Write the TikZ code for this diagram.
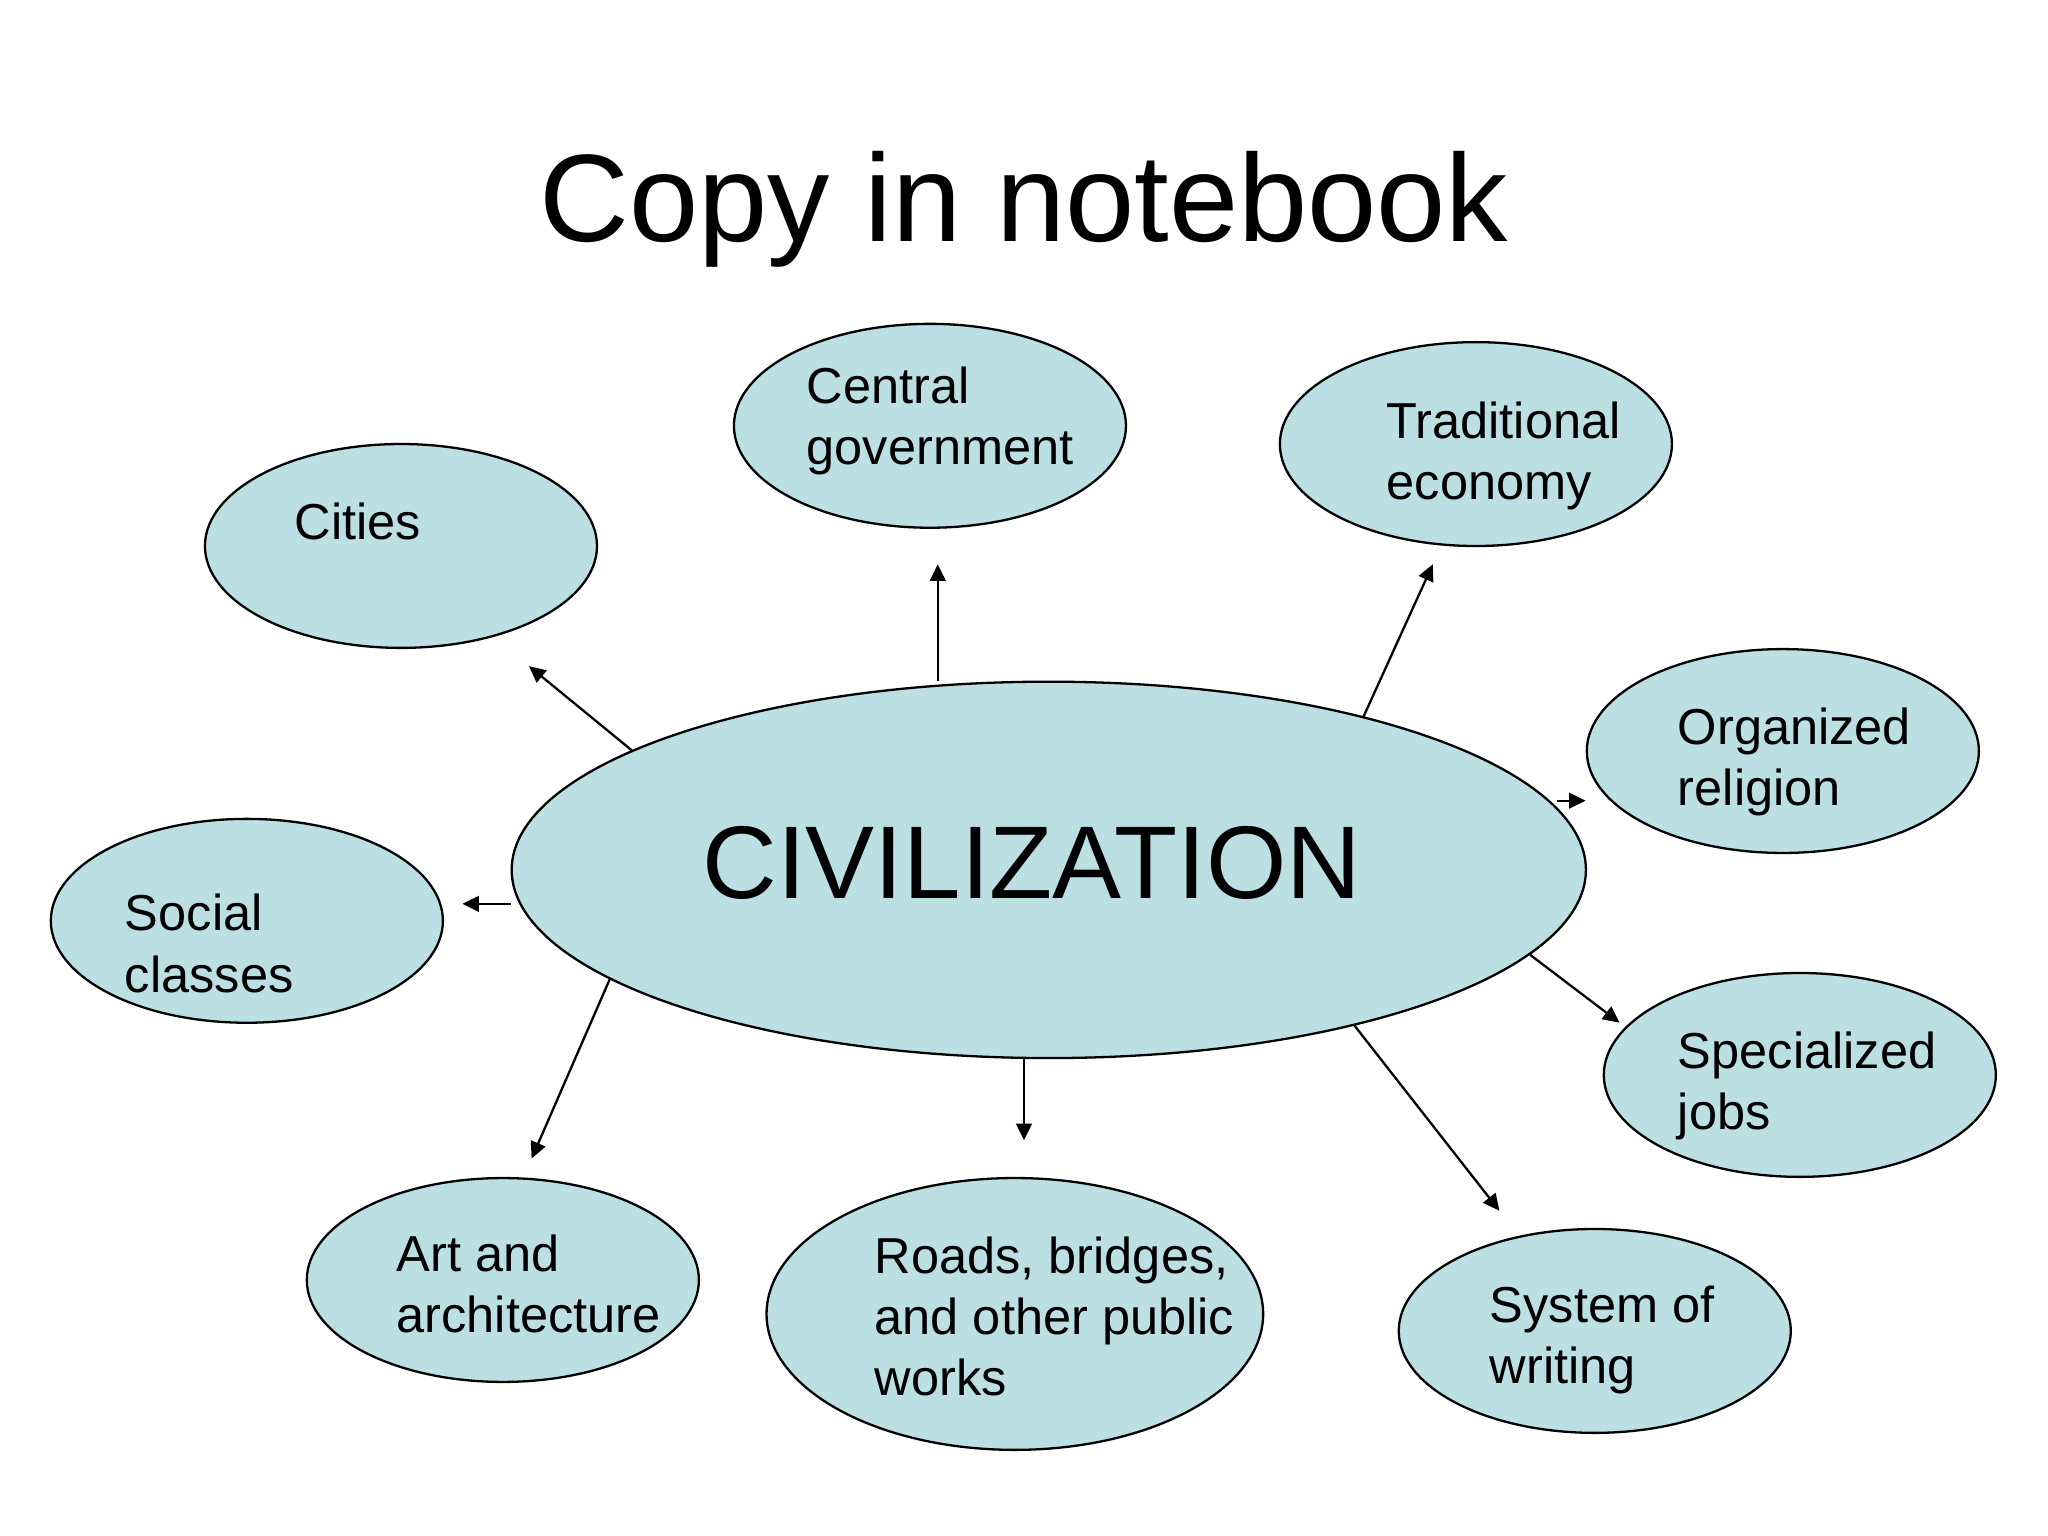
\documentclass[tikz,border=0pt]{standalone}
\usepackage{fontspec}
\setmainfont{Liberation Sans}
\usetikzlibrary{shapes.geometric,arrows.meta}
\definecolor{bubblefill}{RGB}{187,223,227}

\begin{document}
\begin{tikzpicture}[x=0.01cm, y=-0.01cm,
  bubble/.style={ellipse, draw=black, line width=0.5pt, fill=bubblefill, inner sep=0pt},
  small/.style={bubble, minimum width=3cm, minimum height=1.56cm},
  words/.style={anchor=north west, align=left, inner sep=0pt, font=\fontsize{11}{13.3}\selectfont},
  link/.style={line width=0.5pt, -{Triangle[length=3.6pt,width=3.4pt]}}]
	%%%%% START %%%%%
	\useasboundingbox[fill=white] (0,0) rectangle (1568,1176);

	\node[anchor=base, inner sep=0pt, font=\fontsize{27.1}{32}\selectfont] (title) at (784,185) {Copy in notebook};

	% centre
	\node[bubble, minimum width=8.22cm, minimum height=2.88cm] (civ) at (803,666) {};
	\node[anchor=base, inner sep=0pt, font=\fontsize{22.5}{26}\selectfont] (civText) at (790,688) {CIVILIZATION};

	% bubbles round it
	\node[small] (cities) at (307,418) {};
	\node[words] (citiesText) at (225,384) {Cities};

	\node[small] (gov) at (712,326) {};
	\node[words] (govText) at (617,280) {Central\\government};

	\node[small] (econ) at (1130,340) {};
	\node[words] (econText) at (1061,307) {Traditional\\economy};

	\node[small] (relig) at (1365,575) {};
	\node[words] (religText) at (1284,541) {Organized\\religion};

	\node[small] (social) at (189,705) {};
	\node[words] (socialText) at (95,684) {Social\\classes};

	\node[small] (jobs) at (1378,823) {};
	\node[words] (jobsText) at (1284,789) {Specialized\\jobs};

	\node[small] (art) at (385,980) {};
	\node[words] (artText) at (303,945) {Art and\\architecture};

	\node[bubble, minimum width=3.8cm, minimum height=2.08cm] (roads) at (777,1006) {};
	\node[words] (roadsText) at (669,946) {Roads, bridges,\\and other public\\works};

	\node[small] (writing) at (1221,1019) {};
	\node[words] (writingText) at (1140,984) {System of\\writing};

	% arrow tips stop short of the bubbles
	\coordinate (citiesTip) at (405,510);
	\coordinate (govTip) at (718,432);
	\coordinate (econTip) at (1097,432);
	\coordinate (religTip) at (1214,613);
	\coordinate (socialTip) at (354,692);
	\coordinate (jobsTip) at (1240,783);
	\coordinate (writingTip) at (1148,927);
	\coordinate (roadsTip) at (784,873);
	\coordinate (artTip) at (407,887);

	\draw[link] (civ.164.8) -- (citiesTip);
	\draw[link] (govTip |- civ.north) -- (govTip);
	\draw[link] (civ.26.6) -- (econTip);
	\draw[link] (civ.7.8 |- religTip) -- (religTip);
	\draw[link] (civ.west |- socialTip) -- (socialTip);
	\draw[link] (civ.-10.8) -- (jobsTip);
	\draw[link] (civ.-27.4) -- (writingTip);
	\draw[link] (roadsTip |- civ.south) -- (roadsTip);
	\draw[link] (civ.194) -- (artTip);
	%%%%% END %%%%%
\end{tikzpicture}
\end{document}
